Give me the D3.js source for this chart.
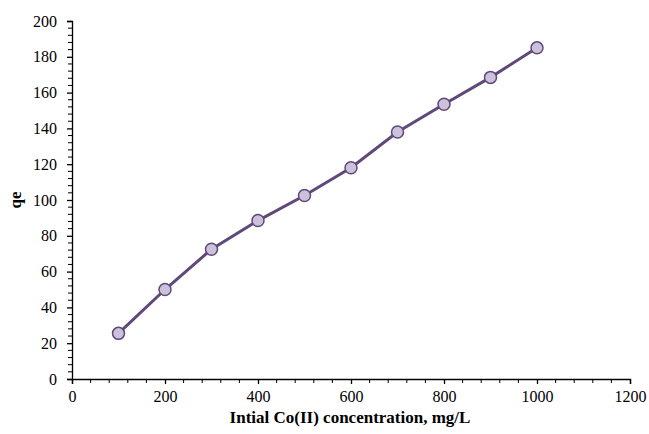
<!DOCTYPE html>
<html>
<head>
<meta charset="utf-8">
<script src="https://cdn.jsdelivr.net/npm/d3@7"></script>
<style>
  html, body { margin: 0; padding: 0; background: #fff; }
  svg { display: block; font-family: "Liberation Serif", "Times New Roman", serif; }
</style>
</head>
<body>
<svg id="chart" width="649" height="434"></svg>
<script>
// Initial Co(II) concentration (mg/L) and adsorption capacity qe
const concentration = [100, 200, 300, 400, 500, 600, 700, 800, 900, 1000];
const qe = [25.5, 50, 72.5, 88.5, 102.5, 118, 138, 153.5, 168.5, 185];

const xTicks = [0, 200, 400, 600, 800, 1000, 1200];
const yTicks = [0, 20, 40, 60, 80, 100, 120, 140, 160, 180, 200];

const xTitle = "Intial Co(II) concentration, mg/L";
const yTitle = "qe";

const margin = { left: 72, right: 19, top: 21, bottom: 55 };
const W = 649, H = 434;
const serif = "Liberation Serif, Times New Roman, serif";

const svg = d3.select("#chart");
const x = d3.scaleLinear().domain([0, 1200]).range([margin.left, W - margin.right]);
const y = d3.scaleLinear().domain([0, 200]).range([H - margin.bottom, margin.top]);

// minor ticks
const xMinor = d3.range(0, 1201, 40).filter(v => v % 200 !== 0);
const yMinor = d3.range(0, 201, 4).filter(v => v % 20 !== 0);

const gx = svg.append("g").attr("transform", `translate(0,${y(0)})`);
gx.selectAll("line.minor").data(xMinor).join("line")
  .attr("x1", d => x(d)).attr("x2", d => x(d)).attr("y1", 0).attr("y2", 4)
  .attr("stroke", "#000").attr("stroke-width", 1);
gx.call(d3.axisBottom(x).tickValues(xTicks).tickSize(5).tickPadding(7).tickFormat(d3.format("d")))
  .attr("font-family", serif)
  .call(g => g.select(".domain").attr("stroke", "#000").attr("stroke-width", 1.3))
  .call(g => g.selectAll(".tick line").attr("stroke-width", 1.3))
  .call(g => g.selectAll(".tick text").attr("font-size", 16).attr("fill", "#000"));

const gy = svg.append("g").attr("transform", `translate(${x(0)},0)`);
gy.selectAll("line.minor").data(yMinor).join("line")
  .attr("x1", -4).attr("x2", 0).attr("y1", d => y(d)).attr("y2", d => y(d))
  .attr("stroke", "#000").attr("stroke-width", 1);
gy.call(d3.axisLeft(y).tickValues(yTicks).tickSize(5).tickPadding(10).tickFormat(d3.format("d")))
  .attr("font-family", serif)
  .call(g => g.select(".domain").attr("stroke", "#000").attr("stroke-width", 1.3))
  .call(g => g.selectAll(".tick line").attr("stroke-width", 1.3))
  .call(g => g.selectAll(".tick text").attr("font-size", 16).attr("fill", "#000"));

// axis titles
svg.append("text")
  .attr("x", 350).attr("y", 423)
  .attr("text-anchor", "middle").attr("font-weight", "bold").attr("font-size", 17)
  .attr("font-family", serif)
  .text(xTitle);
svg.append("text")
  .attr("transform", `translate(21,${(y(0) + y(200)) / 2}) rotate(-90)`)
  .attr("text-anchor", "middle").attr("font-weight", "bold").attr("font-size", 17)
  .attr("font-family", serif)
  .text(yTitle);

// series line and markers
const data = concentration.map((c, i) => ({ c, q: qe[i] }));
svg.append("path").datum(data)
  .attr("fill", "none").attr("stroke", "#5f497a").attr("stroke-width", 3)
  .attr("d", d3.line().x(d => x(d.c)).y(d => y(d.q)));
svg.selectAll("circle.pt").data(data).join("circle")
  .attr("class", "pt")
  .attr("cx", d => x(d.c)).attr("cy", d => y(d.q)).attr("r", 6)
  .attr("fill", "#ccc0da").attr("stroke", "#5f497a").attr("stroke-width", 1.5);
</script>
</body>
</html>
